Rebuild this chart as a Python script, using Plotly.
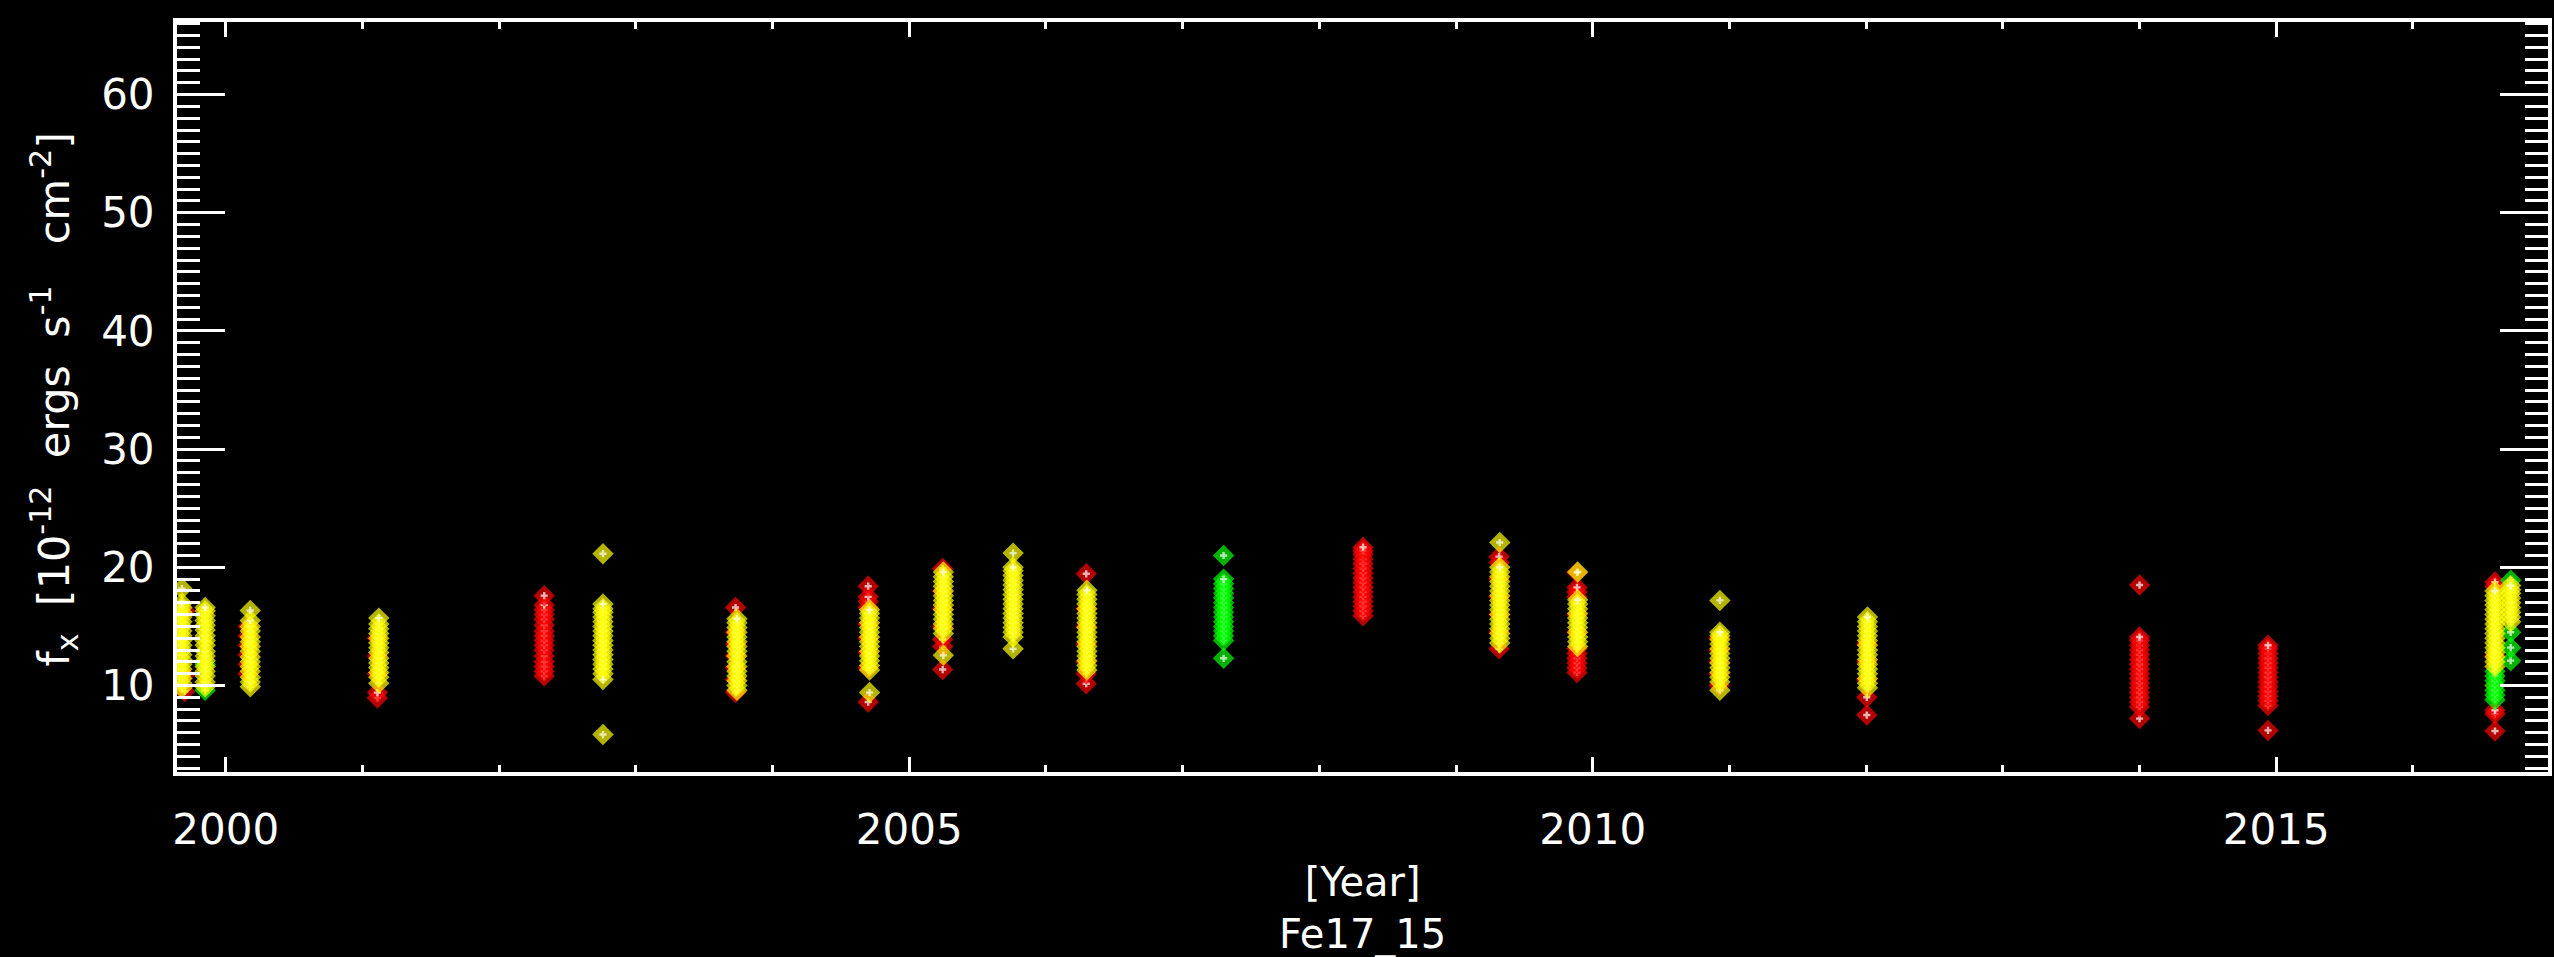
import plotly.graph_objects as go

# Fe XVII 15 A line flux per observing epoch, split by flag colour.
# Each epoch is a vertical stack of individual flux measurements.

red_epoch = [1999.70, 2000.165, 2001.11, 2002.33, 2003.73, 2004.70, 2005.245,
             2006.295, 2008.32, 2009.315, 2009.885, 2010.925, 2012.005,
             2014.00, 2014.94, 2016.60]
red_flux = [
    [9.5, 10.9, 16.3],
    [11.0, 11.8, 12.6, 13.4, 14.2, 15.0],
    [8.95, 9.4, 11.0, 12.5, 14.0],
    [10.8, 11.2, 11.6, 12.0, 12.5, 13.0, 13.4, 13.8, 14.2, 14.6, 15.1, 15.6, 16.0, 16.4, 16.8, 17.6],
    [9.4, 10.5, 11.5, 12.5, 13.5, 14.5, 16.6],
    [8.6, 11.5, 12.8, 14.0, 15.2, 16.6, 17.1, 17.5, 18.4],
    [11.35, 13.3, 13.9, 15.0, 16.5, 18.0, 19.9],
    [10.15, 11.0, 12.0, 13.5, 15.0, 16.5, 19.45],
    [15.9, 16.3, 16.7, 17.1, 17.5, 17.9, 18.3, 18.7, 19.1, 19.5, 19.9, 20.3, 20.7, 21.1, 21.4, 21.7],
    [13.1, 14.5, 16.0, 17.5, 19.0, 20.4, 20.9],
    [11.1, 11.5, 11.9, 12.3, 12.7, 13.1, 14.5, 16.0, 17.5, 17.9, 18.3, 19.55],
    [10.0, 11.0, 12.0, 13.0, 14.0],
    [7.5, 9.0, 10.5, 12.0, 13.5],
    [7.2, 8.2, 8.6, 9.0, 9.4, 9.8, 10.2, 10.6, 11.0, 11.4, 11.8, 12.2, 12.6, 13.0, 13.4, 13.8, 14.1, 18.5],
    [6.2, 8.3, 8.7, 9.1, 9.5, 9.9, 10.3, 10.7, 11.1, 11.5, 11.9, 12.3, 12.7, 13.1, 13.4],
    [6.15, 7.6, 7.9, 10.0, 12.5, 18.4, 18.75],
]

green_epoch = [1999.85, 2007.30, 2016.60, 2016.715]
green_flux = [
    [9.6, 11.8],
    [13.8, 14.2, 14.6, 15.0, 15.4, 15.8, 16.2, 16.6, 17.0, 17.4, 17.8, 18.2, 18.6, 19.0, 12.3, 21.0],
    [8.8, 9.2, 9.6, 10.0, 10.4, 10.8, 11.2],
    [12.1, 13.2, 14.5, 18.9],
]

yellow_epoch = [1999.68, 1999.85, 2000.18, 2001.12, 2002.76, 2003.74, 2004.71,
                2005.25, 2005.76, 2006.30, 2009.32, 2009.89, 2010.93, 2012.01,
                2016.60, 2016.715]
yellow_flux = [
    [9.8, 10.2, 10.6, 11.0, 11.4, 11.8, 12.2, 12.6, 13.0, 13.4, 13.8, 14.2, 14.6, 15.0, 15.4, 15.8, 16.2, 16.6, 16.95, 18.2],
    [9.9, 10.3, 10.8, 11.2, 11.6, 12.1, 12.5, 12.9, 13.4, 13.8, 14.2, 14.7, 15.1, 15.5, 15.9, 16.3, 16.6],
    [9.9, 10.3, 10.7, 11.2, 11.6, 12.0, 12.4, 12.9, 13.3, 13.7, 14.1, 14.6, 15.0, 15.5, 16.35],
    [10.2, 10.7, 11.1, 11.5, 11.9, 12.3, 12.8, 13.2, 13.6, 14.0, 14.4, 14.8, 15.2, 15.7],
    [11.0, 11.4, 11.8, 12.2, 12.6, 13.0, 13.4, 13.8, 14.2, 14.6, 15.0, 15.4, 15.8, 16.2, 16.5, 16.9, 10.5, 5.85, 21.15],
    [9.6, 10.0, 10.4, 10.8, 11.2, 11.6, 12.0, 12.5, 12.9, 13.3, 13.7, 14.1, 14.5, 14.9, 15.3, 15.65],
    [9.4, 11.3, 11.7, 12.1, 12.5, 12.9, 13.3, 13.7, 14.1, 14.5, 14.9, 15.3, 15.7, 16.1, 16.4],
    [12.55, 14.4, 14.8, 15.2, 15.6, 16.0, 16.4, 16.8, 17.2, 17.6, 18.0, 18.4, 18.8, 19.2, 19.6],
    [13.1, 14.1, 14.5, 14.9, 15.3, 15.7, 16.1, 16.5, 16.9, 17.3, 17.7, 18.1, 18.5, 18.9, 19.3, 19.7, 20.0, 21.2],
    [11.3, 11.7, 12.1, 12.5, 12.9, 13.3, 13.7, 14.1, 14.5, 14.9, 15.3, 15.7, 16.1, 16.5, 16.9, 17.3, 17.7, 18.05],
    [13.6, 14.0, 14.4, 14.8, 15.2, 15.6, 16.0, 16.4, 16.8, 17.2, 17.6, 18.0, 18.4, 18.8, 19.2, 19.6, 20.0, 22.1],
    [13.3, 13.7, 14.1, 14.5, 14.9, 15.3, 15.7, 16.1, 16.5, 16.9, 17.25, 19.6],
    [9.6, 10.3, 10.7, 11.1, 11.5, 11.9, 12.3, 12.7, 13.1, 13.5, 13.9, 14.2, 14.5, 17.2],
    [9.8, 10.2, 10.6, 11.0, 11.4, 11.8, 12.2, 12.6, 13.0, 13.4, 13.8, 14.2, 14.6, 15.0, 15.4, 15.8],
    [11.6, 12.0, 12.4, 12.8, 13.2, 13.6, 14.0, 14.4, 14.8, 15.2, 15.6, 16.0, 16.4, 16.8, 17.2, 17.6, 18.0],
    [15.4, 15.8, 16.2, 16.6, 17.0, 17.4, 17.8, 18.1, 18.45],
]

x_range = [1999.644, 2016.988]
y_range = [2.68, 66.14]

RED, GREEN, YELLOW = "#ff0000", "#00ff00", "#ffff00"
FONT = "DejaVu Sans"

# Every measurement is a filled diamond with a small white plus at its
# centre; both are emitted point by point so later diamonds cover the
# centres of earlier ones.
xs, ys, symbols, sizes, colors = [], [], [], [], []
for epochs, fluxes, col in [(red_epoch, red_flux, RED),
                            (green_epoch, green_flux, GREEN),
                            (yellow_epoch, yellow_flux, YELLOW)]:
    for t, vals in zip(epochs, fluxes):
        for v in vals:
            xs += [t, t]
            ys += [v, v]
            symbols += ["diamond", "cross"]
            sizes += [16.5, 6]
            colors += [col, "#ffffff"]

fig = go.Figure()
fig.add_trace(go.Scatter(
    x=xs, y=ys, mode="markers",
    marker=dict(symbol=symbols, size=sizes, color=colors, line=dict(width=0)),
    hoverinfo="skip", showlegend=False,
))

axis_common = dict(
    showgrid=False, zeroline=False,
    showline=True, linecolor="white", linewidth=4, mirror="ticks",
    ticks="inside", tickcolor="white", tickwidth=3,
    tickfont=dict(family=FONT, size=42, color="white"),
)

fig.update_xaxes(
    range=x_range, tickmode="linear", tick0=2000, dtick=5, tickformat="d",
    ticklen=15, ticklabelstandoff=18,
    minor=dict(tickmode="linear", tick0=2000, dtick=1, ticklen=7,
               tickwidth=3, tickcolor="white", ticks="inside"),
    **axis_common,
)
fig.update_yaxes(
    range=y_range, tickmode="linear", tick0=0, dtick=10,
    ticklen=48, ticklabelstandoff=10,
    minor=dict(tickmode="linear", tick0=0, dtick=1, ticklen=23,
               tickwidth=3, tickcolor="white", ticks="inside"),
    **axis_common,
)

fig.add_annotation(
    text="[Year]<br>Fe17_15", xref="paper", yref="paper",
    x=0.5, y=-0.113, xanchor="center", yanchor="top", showarrow=False,
    font=dict(family=FONT, size=40, color="white"),
)
fig.add_annotation(
    text=("f<sub>x</sub>&nbsp; [10<sup>-12</sup>&nbsp; ergs&nbsp; "
          "s<sup>-1</sup>&nbsp;&nbsp; cm<sup>-2</sup>]"),
    xref="paper", yref="paper", x=-0.0518, y=0.497,
    xanchor="center", yanchor="middle", textangle=-90, showarrow=False,
    font=dict(family=FONT, size=43, color="white"),
)

fig.update_layout(
    width=2554, height=957,
    margin=dict(l=177, r=2, t=22, b=185, pad=0),
    paper_bgcolor="black", plot_bgcolor="black",
)

fig.write_html("out.html")
